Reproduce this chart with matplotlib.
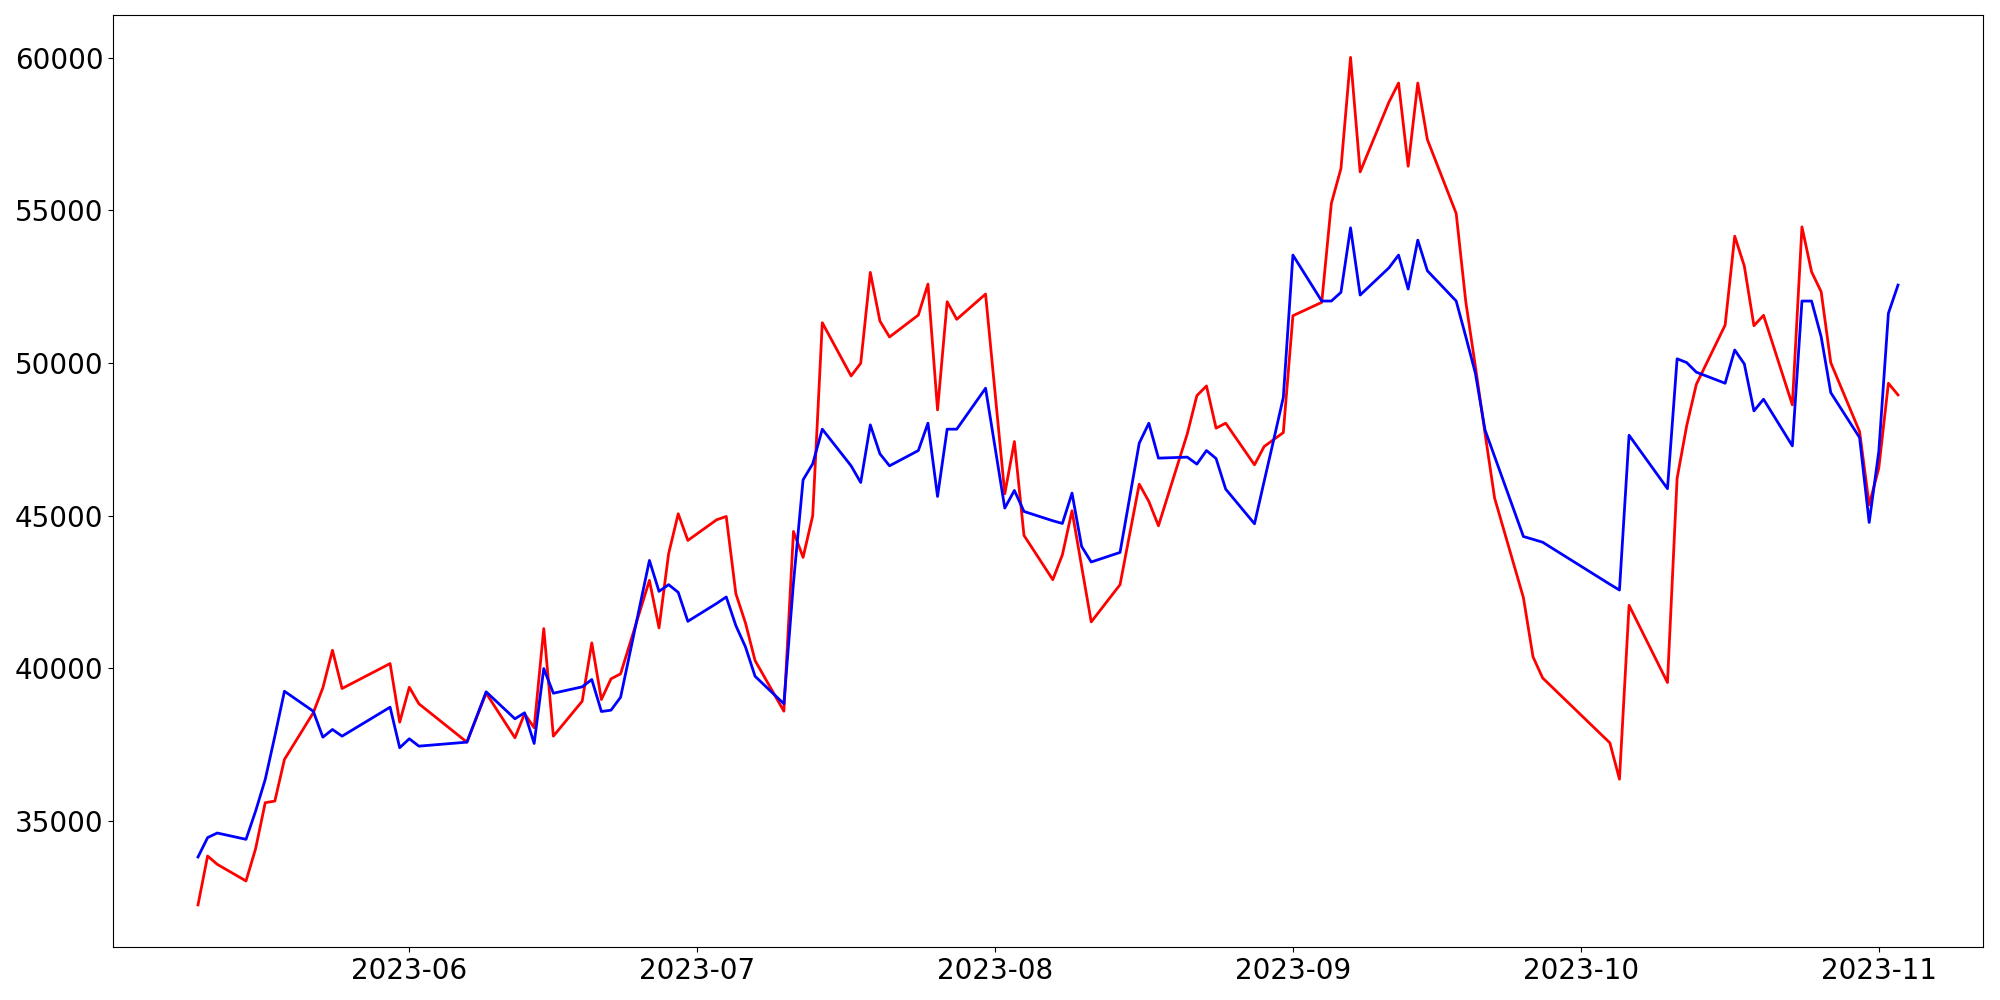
import matplotlib
matplotlib.use("Agg")
import matplotlib.pyplot as plt
import matplotlib.dates as mdates
import pandas as pd

dates = [
    "2023-05-10", "2023-05-11", "2023-05-12", "2023-05-15", "2023-05-16", "2023-05-17",
    "2023-05-18", "2023-05-19", "2023-05-22", "2023-05-23", "2023-05-24", "2023-05-25",
    "2023-05-30", "2023-05-31", "2023-06-01", "2023-06-02", "2023-06-07", "2023-06-09",
    "2023-06-12", "2023-06-13", "2023-06-14", "2023-06-15", "2023-06-16", "2023-06-19",
    "2023-06-20", "2023-06-21", "2023-06-22", "2023-06-23", "2023-06-26", "2023-06-27",
    "2023-06-28", "2023-06-29", "2023-06-30", "2023-07-03", "2023-07-04", "2023-07-05",
    "2023-07-06", "2023-07-07", "2023-07-10", "2023-07-11", "2023-07-12", "2023-07-13",
    "2023-07-14", "2023-07-17", "2023-07-18", "2023-07-19", "2023-07-20", "2023-07-21",
    "2023-07-24", "2023-07-25", "2023-07-26", "2023-07-27", "2023-07-28", "2023-07-31",
    "2023-08-02", "2023-08-03", "2023-08-04", "2023-08-07", "2023-08-08", "2023-08-09",
    "2023-08-10", "2023-08-11", "2023-08-14", "2023-08-16", "2023-08-17", "2023-08-18",
    "2023-08-21", "2023-08-22", "2023-08-23", "2023-08-24", "2023-08-25", "2023-08-28",
    "2023-08-29", "2023-08-30", "2023-08-31", "2023-09-01", "2023-09-04", "2023-09-05",
    "2023-09-06", "2023-09-07", "2023-09-08", "2023-09-11", "2023-09-12", "2023-09-13",
    "2023-09-14", "2023-09-15", "2023-09-18", "2023-09-19", "2023-09-20", "2023-09-21",
    "2023-09-22", "2023-09-25", "2023-09-26", "2023-09-27", "2023-10-04", "2023-10-05",
    "2023-10-06", "2023-10-10", "2023-10-11", "2023-10-12", "2023-10-13", "2023-10-16",
    "2023-10-17", "2023-10-18", "2023-10-19", "2023-10-20", "2023-10-23", "2023-10-24",
    "2023-10-25", "2023-10-26", "2023-10-27", "2023-10-30", "2023-10-31", "2023-11-01",
    "2023-11-02", "2023-11-03",
]

red_values = [
    32242, 33845, 33573, 33027, 34087, 35592,
    35645, 37009, 38536, 39355, 40585, 39332,
    40150, 38229, 39374, 38831, 37575, 39180,
    37719, 38504, 38046, 41295, 37771, 38916,
    40827, 38972, 39649, 39813, 42875, 41318,
    43749, 45057, 44184, 44861, 44969, 42440,
    41481, 40248, 38589, 44478, 43628, 44992,
    51317, 49573, 49988, 52966, 51372, 50849,
    51568, 52583, 48460, 52004, 51428, 52256,
    45712, 47423, 44348, 42898, 43716, 45156,
    43333, 41514, 42735, 46029, 45460, 44665,
    47675, 48928, 49245, 47862, 48025, 46661,
    47259, 47490, 47717, 51546, 51984, 55223,
    56368, 60010, 56257, 58547, 59169, 56444,
    59169, 57317, 54896, 52000, 49877, 47698,
    45571, 42309, 40369, 39678, 37552, 36361,
    42057, 39528, 46216, 47943, 49295, 51238,
    54153, 53172, 51218, 51559, 48624, 54457,
    52985, 52331, 50008, 47750, 45352, 46553,
    49334, 48951,
]

blue_values = [
    33812, 34447, 34598, 34391, 35317, 36354,
    37771, 39243, 38589, 37738, 37990, 37771,
    38720, 37392, 37686, 37444, 37575, 39224,
    38340, 38536, 37532, 39986, 39178, 39387,
    39626, 38579, 38622, 39047, 43529, 42515,
    42735, 42483, 41534, 42120, 42332, 41393,
    40696, 39734, 38831, 42800, 46170, 46693,
    47829, 46628, 46082, 47970, 47021, 46628,
    47129, 48025, 45624, 47829, 47829, 49170,
    45244, 45820, 45133, 44828, 44740, 45735,
    43988, 43477, 43791, 47371, 48025, 46880,
    46913, 46684, 47129, 46867, 45866, 44730,
    46114, 47480, 48870, 53532, 52027, 52027,
    52311, 54425, 52223, 53116, 53532, 52419,
    54022, 53018, 52027, 50860, 49661, 47806,
    46932, 44312, 44220, 44125, 42748, 42558,
    47629, 45879, 50135, 50011, 49697, 49334,
    50423, 49965, 48428, 48810, 47282, 52027,
    52027, 50858, 49026, 47554, 44773, 47096,
    51624, 52550,
]

x = pd.to_datetime(dates)

fig = plt.figure(figsize=(20, 10), dpi=100)
ax = fig.add_axes([0.0565, 0.0527, 0.9915 - 0.0565, 0.985 - 0.0527])
ax.plot(x, red_values, color="red", linewidth=2)
ax.plot(x, blue_values, color="blue", linewidth=2)
ax.xaxis.set_major_locator(mdates.MonthLocator())
ax.xaxis.set_major_formatter(mdates.DateFormatter("%Y-%m"))
ax.tick_params(labelsize=20)
fig.savefig("out.png", dpi=100)
